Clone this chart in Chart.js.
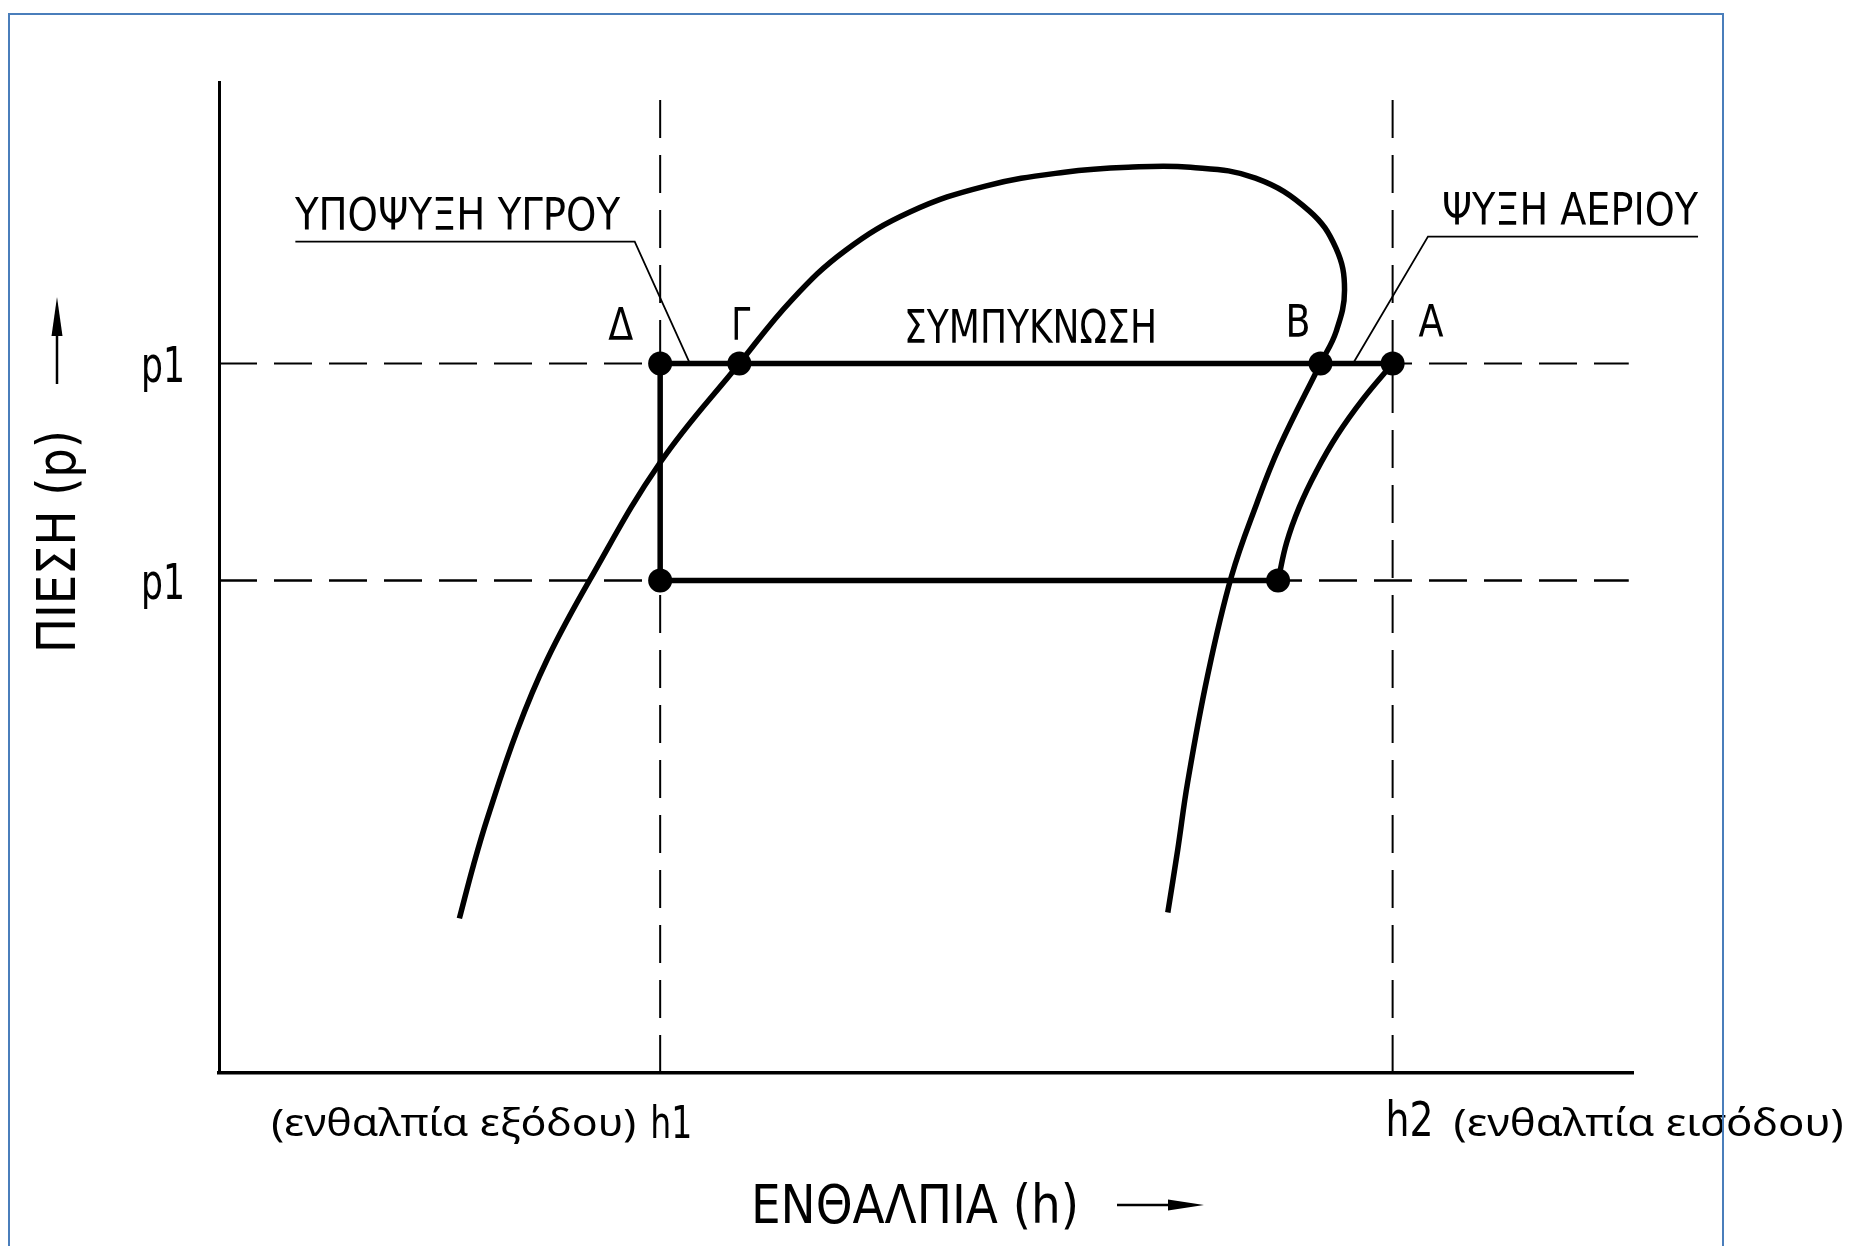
<!DOCTYPE html>
<html>
<head>
<meta charset="utf-8">
<script src="https://cdn.jsdelivr.net/npm/chart.js@4/dist/chart.umd.min.js"></script>
<style>
  html, body { margin: 0; padding: 0; background: #fff; overflow: hidden; }
  canvas { display: block; }
</style>
</head>
<body>
<canvas id="c" width="1864" height="1246"></canvas>
<script>
// ---- Data (enthalpy h on x, pressure p on y; arbitrary 0..100 units) ----
const H1 = 31.2;          // h1 (enthalpy at outlet)
const H2 = 83.0;          // h2 (enthalpy at inlet)
const P_HIGH = 71.6;      // upper p1
const P_LOW = 49.7;       // lower p1

// saturation dome (liquid branch -> top -> vapour branch)
const domeH = [17.0, 18.0, 19.0, 21.1, 23.2, 26.2, 31.2, 36.8, 40.5, 44.3, 48.9, 54.2, 59.8, 64.3, 68.7, 73.3, 77.1, 79.0, 79.6, 79.0, 77.9, 75.0, 73.4, 71.6, 69.9, 68.5, 67.8, 67.1];
const domeP = [15.6, 21.0, 25.8, 34.6, 41.7, 49.7, 61.6, 71.6, 78.0, 83.0, 86.9, 89.5, 90.9, 91.4, 91.4, 90.3, 87.0, 83.2, 79.0, 74.8, 71.6, 63.2, 57.5, 50.1, 40.0, 29.3, 22.5, 16.2];

// compression curve from A down to suction point
const compH = [83.0, 80.9, 79.1, 77.6, 76.4, 75.5, 74.9];
const compP = [71.6, 68.0, 64.4, 60.7, 57.1, 53.5, 49.7];

// straight parts of the cycle: suction point -> h1 low -> Δ -> A
const cycleH = [74.9, H1, H1, H2];
const cycleP = [P_LOW, P_LOW, P_HIGH, P_HIGH];

// state points: Δ, Γ, Β, Α, suction, h1 low
const stateNames = ['Δ', 'Γ', 'Β', 'Α', '', ''];
const stateH = [H1, 36.8, 77.9, H2, 74.9, H1];
const stateP = [P_HIGH, P_HIGH, P_HIGH, P_HIGH, P_LOW, P_LOW];

// callout leader lines
const leader1H = [5.4, 29.4, 33.3];
const leader1P = [83.9, 83.9, P_HIGH];
const leader2H = [104.6, 85.5, 80.2];
const leader2P = [84.4, 84.4, P_HIGH];

// texts
const yTickLabel = 'p1';
const xTickLabels = ['h1', 'h2'];
const xTickNotes = ['(ενθαλπία εξόδου)', '(ενθαλπία εισόδου)'];
const calloutTexts = ['ΥΠΟΨΥΞΗ ΥΓΡΟΥ', 'ΨΥΞΗ ΑΕΡΙΟΥ'];
const zoneText = 'ΣΥΜΠΥΚΝΩΣΗ';
const yTitle = 'ΠΙΕΣΗ (p)';
const xTitle = 'ΕΝΘΑΛΠΙΑ (h)';

// ---- helpers ----
const zip = (xs, ys) => xs.map((x, i) => ({ x: x, y: ys[i] }));
const NARROW = "'Liberation Sans Narrow', 'DejaVu Sans Condensed', sans-serif";
const SANS = "'Noto Sans', 'Open Sans', sans-serif";

function txt(ctx, s, x, y, size, family, o) {
  o = o || {};
  ctx.save();
  ctx.font = size + 'px ' + family;
  ctx.fillStyle = '#000';
  ctx.textBaseline = 'alphabetic';
  ctx.textAlign = 'left';
  const w = ctx.measureText(s).width;
  const sx = o.width ? o.width / w : 1;
  const drawnW = w * sx;
  ctx.translate(x, y);
  if (o.rotate) ctx.rotate(o.rotate);
  ctx.translate(o.right ? -drawnW : (o.center ? -drawnW / 2 : 0), 0);
  ctx.scale(sx, 1);
  ctx.fillText(s, 0, 0);
  ctx.restore();
}

const lineDs = (data, o) => Object.assign({
  data: data, showLine: true, borderColor: '#000', backgroundColor: '#000',
  pointRadius: 0, pointHoverRadius: 0, tension: 0, fill: false
}, o);

const decor = {
  id: 'decor',
  beforeDraw(chart) {
    const ctx = chart.ctx;
    ctx.save();
    ctx.fillStyle = '#fff';
    ctx.fillRect(0, 0, chart.width, chart.height);
    ctx.restore();
  },
  afterDraw(chart) {
    const ctx = chart.ctx;
    const xs = chart.scales.x, ys = chart.scales.y;
    const X = v => xs.getPixelForValue(v), Y = v => ys.getPixelForValue(v);

    // y tick labels "p1"
    [P_HIGH, P_LOW].forEach(p => txt(ctx, yTickLabel, X(0) - 34, Y(p) + 19, 50, NARROW, { right: true, width: 44 }));

    // x tick labels
    txt(ctx, xTickLabels[0], X(H1) - 10, 1138, 44, NARROW, { width: 42 });
    txt(ctx, xTickNotes[0], X(H1) - 389, 1136, 38, SANS, { width: 365 });
    txt(ctx, xTickLabels[1], X(H2) - 7, 1136, 48, NARROW, { width: 48 });
    txt(ctx, xTickNotes[1], X(H2) + 61, 1136, 38, SANS, { width: 390 });

    // state letters
    txt(ctx, stateNames[0], X(H1) - 52, 340, 45, NARROW, { width: 25 });
    txt(ctx, stateNames[1], X(stateH[1]) - 8, 340, 45, NARROW, { width: 19 });
    txt(ctx, stateNames[2], X(stateH[2]) - 35, 337, 45, NARROW, { width: 25 });
    txt(ctx, stateNames[3], X(H2) + 26, 337, 45, NARROW, { width: 25 });

    // zone & callout texts
    txt(ctx, zoneText, 904, 343, 46, NARROW, { width: 253 });
    txt(ctx, calloutTexts[0], 295, 230, 45, NARROW, { width: 325 });
    txt(ctx, calloutTexts[1], 1442, 225, 45, NARROW, { width: 256 });

    // axis titles
    txt(ctx, yTitle, 75, 653, 53, NARROW, { rotate: -Math.PI / 2, width: 223 });
    txt(ctx, xTitle, 751, 1223, 53, NARROW, { width: 328 });

    // arrows
    ctx.save();
    ctx.strokeStyle = '#000';
    ctx.fillStyle = '#000';
    ctx.lineWidth = 2.5;
    ctx.beginPath(); ctx.moveTo(57, 384); ctx.lineTo(57, 325); ctx.stroke();
    ctx.beginPath(); ctx.moveTo(57, 297); ctx.lineTo(51.5, 336); ctx.lineTo(62.5, 336); ctx.closePath(); ctx.fill();
    ctx.beginPath(); ctx.moveTo(1117, 1205); ctx.lineTo(1175, 1205); ctx.stroke();
    ctx.beginPath(); ctx.moveTo(1204, 1205); ctx.lineTo(1168, 1199.5); ctx.lineTo(1168, 1210.5); ctx.closePath(); ctx.fill();
    ctx.restore();

    // page frame
    ctx.save();
    ctx.strokeStyle = '#4a7ebb';
    ctx.lineWidth = 2;
    ctx.strokeRect(9, 14, 1714, 1300);
    ctx.restore();
  }
};

const DASH = [38, 17];

new Chart(document.getElementById('c'), {
  type: 'scatter',
  data: {
    datasets: [
      lineDs(zip(stateH, stateP), { showLine: false, pointRadius: 12, pointBorderWidth: 0, pointBackgroundColor: '#000' }),
      lineDs(zip(domeH, domeP), { borderWidth: 5.5, tension: 0.4 }),
      lineDs(zip(compH, compP), { borderWidth: 5.5, tension: 0.4 }),
      lineDs(zip(cycleH, cycleP), { borderWidth: 5.5 }),
      lineDs(zip(leader1H, leader1P), { borderWidth: 1.8 }),
      lineDs(zip(leader2H, leader2P), { borderWidth: 1.8, clip: false }),
      lineDs([{ x: 0, y: P_HIGH }, { x: 99.7, y: P_HIGH }], { borderWidth: 2, borderDash: DASH }),
      lineDs([{ x: 0, y: P_LOW }, { x: 99.7, y: P_LOW }], { borderWidth: 2.5, borderDash: DASH }),
      lineDs([{ x: H1, y: 0 }, { x: H1, y: 99.9 }], { borderWidth: 2, borderDash: DASH }),
      lineDs([{ x: H2, y: 0 }, { x: H2, y: 99.9 }], { borderWidth: 2, borderDash: DASH })
    ]
  },
  options: {
    responsive: false,
    devicePixelRatio: 1,
    animation: false,
    events: [],
    layout: { padding: { left: 219, right: 231, top: 82, bottom: 173 } },
    plugins: { legend: { display: false }, tooltip: { enabled: false }, title: { display: false } },
    scales: {
      x: {
        type: 'linear', min: 0, max: 100,
        grid: { display: false, drawTicks: false },
        ticks: { display: false },
        border: { display: true, color: '#000', width: 3.5 },
        afterFit: s => { s.height = 0; }
      },
      y: {
        type: 'linear', min: 0, max: 100,
        grid: { display: false, drawTicks: false },
        ticks: { display: false },
        border: { display: true, color: '#000', width: 3 },
        afterFit: s => { s.width = 0; }
      }
    }
  },
  plugins: [decor]
});
</script>
</body>
</html>
